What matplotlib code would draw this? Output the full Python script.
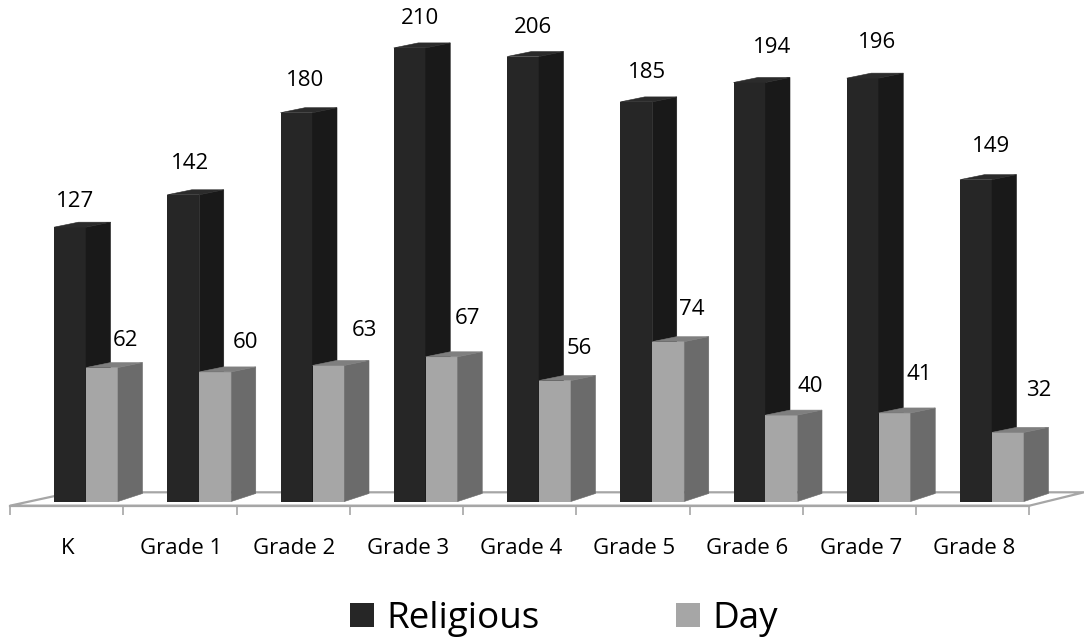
import numpy as np
from matplotlib import pyplot as plt
from matplotlib.patches import Patch, Polygon

plt.rcParams['font.family'] = ['Open Sans', 'DejaVu Sans']

categories = ['K', 'Grade 1', 'Grade 2', 'Grade 3', 'Grade 4', 'Grade 5', 'Grade 6', 'Grade 7', 'Grade 8']
religious = [127, 142, 180, 210, 206, 185, 194, 196, 149]
day = [62, 60, 63, 67, 56, 74, 40, 41, 32]

# label offsets in pixels from the middle of the pair / top of the bar, hand placed in the original
rel_label_dx = [-11, -9, -7.5, -6, -6, -5, 6.5, -2, -1]
rel_label_dy = [25.7, 31.6, 32.7, 28.9, 29.5, 29.2, 35.1, 36, 33.5]
day_label_dx = [39, 46.75, 51.5, 42.25, 40, 40, 44.5, 40.25, 47]
day_label_dy = [27.4, 29.9, 35.4, 37.8, 32.4, 32.3, 29.1, 38.6, 41.4]

# scale of the picture
px_x = 113.25
px_y = 2.16
x0_px = 86
y0_px = 501.5
W, H = 1084, 637

bar_w = 32 / px_x
depth = 24.5 / px_x
rise_top = 5 / px_y
rise_bottom = 8 / px_y
floor_y = -4.2 / px_y
floor_back = 9.2 / px_y

GRAY = '#a6a6a6'
TXT = '#000000'


def draw_side(ax, xs, vals, side_col, top_col, z):
    for x, v in zip(xs, vals):
        r = x + bar_w
        ax.add_patch(Polygon([(r, 0), (r + depth, rise_bottom), (r + depth, v + rise_top), (r, v)],
                             fc=side_col, ec=side_col, lw=0.4, zorder=z))
        ax.add_patch(Polygon([(x, v), (r, v), (r + depth, v + rise_top), (x + depth, v + rise_top)],
                             fc=top_col, ec=top_col, lw=0.4, zorder=z))


fig = plt.figure(figsize=(W / 100, H / 100), dpi=100)
ax = fig.add_axes([0, 0, 1, 1])
ax.set_xlim(-x0_px / px_x, (W - x0_px) / px_x)
ax.set_ylim(-(H - y0_px) / px_y, y0_px / px_y)
ax.patch.set_visible(False)

idx = np.arange(len(categories))
tick_x = np.arange(len(categories) + 1) - 0.671

# floor
floor_left = tick_x[0]
floor_right = tick_x[-1]
ax.add_patch(Polygon([(floor_left, floor_y), (-0.124, floor_back), ((W - x0_px) / px_x, floor_back), (floor_right, floor_y)],
                     fc='white', ec=GRAY, lw=1.6, zorder=1))

ax.bar(idx - bar_w, religious, bar_w, align='edge', color='#262626', zorder=2)
draw_side(ax, idx - bar_w, religious, '#191919', '#2b2b2b', 2)
ax.bar(idx, day, bar_w, align='edge', color=GRAY, zorder=3)
draw_side(ax, idx, day, '#6b6b6b', '#7f7f7f', 3)

for i in idx:
    ax.annotate(str(religious[i]), (i, religious[i]), xytext=(rel_label_dx[i] * 0.72, rel_label_dy[i] * 0.72),
                textcoords='offset points', ha='center', va='center', fontsize=16, color=TXT, zorder=5)
    ax.annotate(str(day[i]), (i, day[i]), xytext=(day_label_dx[i] * 0.72, day_label_dy[i] * 0.72),
                textcoords='offset points', ha='center', va='center', fontsize=16, color=TXT, zorder=5)

# axis line sits on the floor front edge, ticks between the groups
for s in ['top', 'right', 'left']:
    ax.spines[s].set_visible(False)
ax.spines['bottom'].set_position(('data', floor_y))
ax.spines['bottom'].set_bounds(floor_left, floor_right)
ax.spines['bottom'].set_color(GRAY)
ax.spines['bottom'].set_linewidth(1.6)
ax.spines['bottom'].set_zorder(4)
ax.set_yticks([])
ax.set_xticks(tick_x, minor=True)
ax.set_xticks(idx - 18 / px_x)
ax.set_xticklabels(categories)
ax.tick_params(axis='x', which='minor', length=6.5, width=1.2, color=GRAY)
ax.tick_params(axis='x', which='major', length=0, pad=23, labelsize=16, labelcolor=TXT)

handles = [Patch(fc='#262626', label='Religious'), Patch(fc=GRAY, label='Day')]
ax.legend(handles=handles, loc='center', bbox_to_anchor=(564 / W, 1 - 619 / H), ncol=2, frameon=False,
          fontsize=26.5, handlelength=0.65, handleheight=0.65, handletextpad=0.33, columnspacing=3.7,
          labelcolor=TXT)

fig.savefig('out.png', dpi=100)
